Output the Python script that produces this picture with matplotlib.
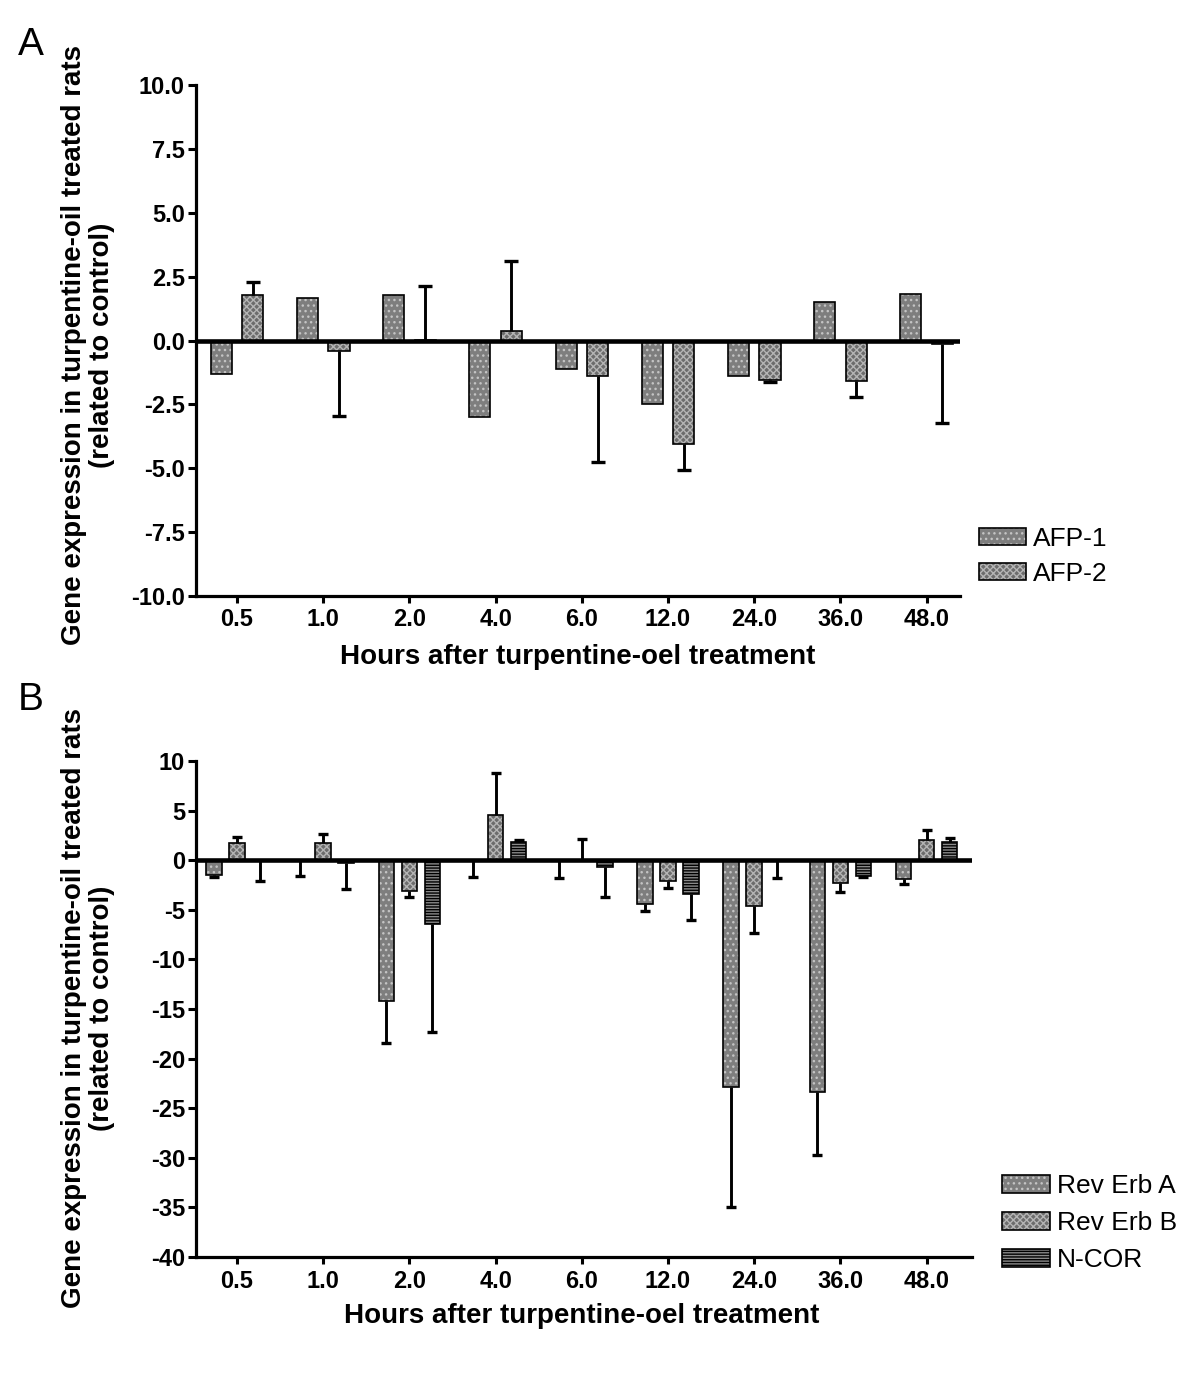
import matplotlib
matplotlib.use('Agg')
import matplotlib.pyplot as plt
import numpy as np
from matplotlib.patches import Patch
from matplotlib.legend_handler import HandlerTuple

plt.rcParams['font.family'] = ['Liberation Sans', 'DejaVu Sans']
plt.rcParams['hatch.linewidth'] = 1.0

# ---------------- data ----------------
hours = ['0.5', '1.0', '2.0', '4.0', '6.0', '12.0', '24.0', '36.0', '48.0']

afp1 = [-1.33, 1.67, 1.80, -3.00, -1.10, -2.47, -1.37, 1.51, 1.83]
afp1_err = [0, 0, 0, 0, 0, 0, 0, 0, 0]
afp2 = [1.78, -0.43, 0.02, 0.36, -1.38, -4.05, -1.55, -1.58, -0.14]
afp2_err = [0.52, 2.53, 2.11, 2.76, 3.36, 1.02, 0.09, 0.62, 3.08]

rev_a = [-1.46, -0.05, -14.2, -0.05, -0.05, -4.38, -22.9, -23.4, -1.88]
rev_a_err = [0.20, 1.57, 4.2, 1.6, 1.7, 0.72, 12.1, 6.3, 0.56]
rev_b = [1.72, 1.72, -3.08, 4.6, 0.05, -2.05, -4.64, -2.34, 2.0]
rev_b_err = [0.65, 0.94, 0.65, 4.2, 2.05, 0.71, 2.73, 0.91, 1.02]
ncor = [-0.05, -0.3, -6.43, 1.79, -0.7, -3.41, -0.05, -1.56, 1.88]
ncor_err = [2.0, 2.56, 10.9, 0.26, 3.0, 2.66, 1.75, 0.10, 0.32]

# ---------------- styles ----------------
STY = {
    'dots':    dict(face='#7e7e7e', hatch='...', hcolor='#c4c4c4'),
    'checker': dict(face='#6c6c6c', hatch='xxxxx', hcolor='#b4b4b4'),
    'lines':   dict(face='#8a8a8a', hatch='------', hcolor='black'),
}

W, H = 1200, 1377
fig = plt.figure(figsize=(W / 100, H / 100), dpi=100)

BOLDFAM = ['Liberation Sans Narrow', 'Liberation Sans', 'DejaVu Sans']
TICKSIZE = 17
LABELSIZE = 20


def style_axes(ax):
    for s in ['top', 'right']:
        ax.spines[s].set_visible(False)
    for s in ['left', 'bottom']:
        ax.spines[s].set_linewidth(2.3)
    ax.tick_params(axis='y', direction='out', length=6, width=2.2, pad=2)
    ax.tick_params(axis='x', direction='out', length=5, width=2.2, pad=4)
    for lab in ax.get_xticklabels() + ax.get_yticklabels():
        lab.set_fontsize(TICKSIZE)
        lab.set_fontweight('bold')
        lab.set_family(BOLDFAM)


def draw_series(ax, x, vals, errs, sty, width, ms):
    vals = np.asarray(vals, float)
    errs = np.asarray(errs, float)
    st = STY[sty]
    ax.bar(x, vals, width, color=st['face'], edgecolor=st['hcolor'],
           hatch=st['hatch'], linewidth=0, zorder=2)
    ax.bar(x, vals, width, fill=False, edgecolor='black', linewidth=1.2, zorder=2.5)
    sgn = np.where(vals >= 0, 1.0, -1.0)
    caps = vals + sgn * errs
    m = errs > 0
    ax.vlines(x[m], vals[m], caps[m], color='black', lw=2.1, zorder=3)
    ax.plot(x[m], caps[m], ls='none', marker='_', ms=ms, mew=2.4,
            color='black', zorder=3)


def legend_handle(sty):
    st = STY[sty]
    return (Patch(facecolor=st['face'], edgecolor=st['hcolor'], hatch=st['hatch'], linewidth=0),
            Patch(fill=False, edgecolor='black', linewidth=1.2))


ylabel = 'Gene expression in turpentine-oil treated rats\n(related to control)'
xlabel = 'Hours after turpentine-oel treatment'


def labels(ax, xl_xy, yl_xy):
    fig.text(xl_xy[0] / W, 1 - xl_xy[1] / H, xlabel, fontsize=LABELSIZE,
             fontweight='bold', family=BOLDFAM, ha='center', va='center')
    fig.text(yl_xy[0] / W, 1 - yl_xy[1] / H, ylabel, fontsize=LABELSIZE,
             fontweight='bold', family=BOLDFAM, ha='center', va='center',
             rotation=90, linespacing=1.1, multialignment='center')


# ---------------- panel A ----------------
axA = fig.add_axes([196 / W, 1 - 596 / H, 764 / W, (596 - 85) / H])
xA = np.arange(len(hours))
wA = 0.244
offA = 0.183
draw_series(axA, xA - offA, afp1, afp1_err, 'dots', wA, 9.5)
draw_series(axA, xA + offA, afp2, afp2_err, 'checker', wA, 9.5)
axA.axhline(0, color='black', lw=3.3, zorder=4)
axA.set_xlim(-0.476, 8.387)
axA.set_ylim(-10, 10)
axA.set_yticks(np.arange(-10, 10.01, 2.5))
axA.set_yticklabels([f'{v:.1f}' for v in np.arange(-10, 10.01, 2.5)])
axA.set_xticks(xA)
axA.set_xticklabels(hours)
style_axes(axA)
labels(axA, (578, 657), (88, 345))

fig.legend(handles=[legend_handle('dots'), legend_handle('checker')],
           labels=['AFP-1', 'AFP-2'],
           handler_map={tuple: HandlerTuple(ndivide=1, pad=0)},
           loc='upper left', bbox_to_anchor=(979 / W, 1 - 527 / H),
           frameon=False, fontsize=19, borderpad=0, borderaxespad=0,
           handlelength=1.77, handleheight=0.62, handletextpad=0.27,
           labelspacing=0.42)

fig.text(18 / W, 1 - 45 / H, 'A', fontsize=28, va='center', ha='left')

# ---------------- panel B ----------------
axB = fig.add_axes([196 / W, 1 - 1257 / H, 776 / W, (1257 - 761) / H])
xB = np.arange(len(hours))
wB = 0.18
offB = 0.267
draw_series(axB, xB - offB, rev_a, rev_a_err, 'dots', wB, 7.5)
draw_series(axB, xB, rev_b, rev_b_err, 'checker', wB, 7.5)
draw_series(axB, xB + offB, ncor, ncor_err, 'lines', wB, 7.5)
axB.axhline(0, color='black', lw=3.3, zorder=4)
axB.set_xlim(-0.476, 8.527)
axB.set_ylim(-40, 10)
axB.set_yticks(np.arange(-40, 10.01, 5))
axB.set_yticklabels([f'{int(v)}' for v in np.arange(-40, 10.01, 5)])
axB.set_xticks(xB)
axB.set_xticklabels(hours)
style_axes(axB)
labels(axB, (582, 1316), (88, 1008))

fig.legend(handles=[legend_handle('dots'), legend_handle('checker'), legend_handle('lines')],
           labels=['Rev Erb A', 'Rev Erb B', 'N-COR'],
           handler_map={tuple: HandlerTuple(ndivide=1, pad=0)},
           loc='upper left', bbox_to_anchor=(1002 / W, 1 - 1174 / H),
           frameon=False, fontsize=19, borderpad=0, borderaxespad=0,
           handlelength=1.8, handleheight=0.65, handletextpad=0.27,
           labelspacing=0.5)

fig.text(18 / W, 1 - 700 / H, 'B', fontsize=28, va='center', ha='left')

fig.savefig('out.png', dpi=100)
